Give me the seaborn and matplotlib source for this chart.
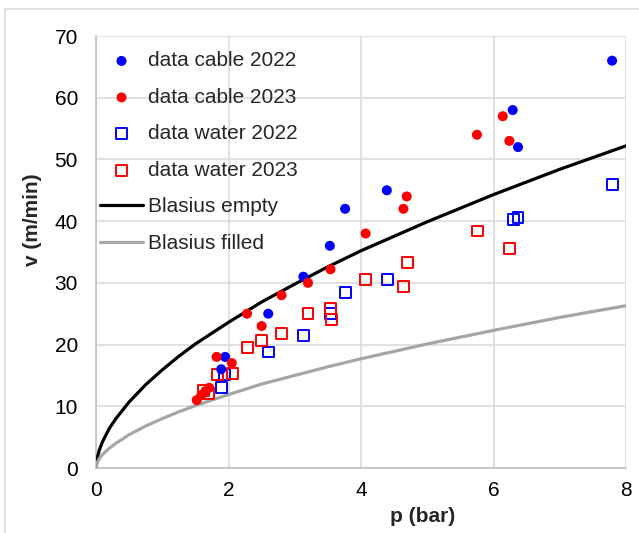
import matplotlib
matplotlib.use("Agg")
import matplotlib.pyplot as plt
from matplotlib.lines import Line2D
import seaborn as sns

# ---- data ----
cable22_p = [1.89, 1.95, 2.60, 3.13, 3.53, 3.76, 4.39, 6.29, 6.37, 7.79]
cable22_v = [16.0, 18.0, 25.0, 31.0, 36.0, 42.0, 45.0, 58.0, 52.0, 66.0]

cable23_p = [1.52, 1.59, 1.65, 1.71, 1.82, 2.05, 2.28, 2.50, 2.80, 3.20, 3.54,
             4.07, 4.64, 4.69, 5.75, 6.14, 6.24]
cable23_v = [11.0, 11.8, 12.4, 13.0, 18.0, 17.0, 25.0, 23.0, 28.0, 30.0, 32.2,
             38.0, 42.0, 44.0, 54.0, 57.0, 53.0]

water22_p = [1.89, 1.94, 2.60, 3.13, 3.54, 3.76, 4.40, 6.30, 6.37, 7.80]
water22_v = [13.0, 15.2, 18.8, 21.4, 25.0, 28.5, 30.6, 40.2, 40.6, 45.9]

water23_p = [1.62, 1.70, 1.83, 2.06, 2.28, 2.50, 2.80, 3.20, 3.54, 3.55, 4.07,
             4.64, 4.70, 5.76, 6.24]
water23_v = [12.6, 12.1, 15.1, 15.3, 19.6, 20.6, 21.8, 25.0, 25.8, 24.1, 30.5,
             29.4, 33.3, 38.4, 35.5]

blasius_p = [0, 0.02, 0.05, 0.1, 0.2, 0.3, 0.5, 0.75, 1, 1.25, 1.5, 2, 2.5, 3,
             3.5, 4, 5, 6, 7, 8]
blasius_empty_v = [0, 1.7, 2.9, 4.3, 6.4, 8.0, 10.7, 13.5, 15.9, 18.1, 20.1, 23.6,
                   26.9, 29.8, 32.6, 35.2, 39.9, 44.3, 48.4, 52.2]
blasius_filled_v = [0, 0.9, 1.5, 2.2, 3.2, 4.0, 5.4, 6.8, 8.0, 9.1, 10.1, 11.9,
                    13.6, 15.0, 16.4, 17.7, 20.1, 22.3, 24.4, 26.3]

x_ticks = [0, 2, 4, 6, 8]
y_ticks = [0, 10, 20, 30, 40, 50, 60, 70]

sns.set_theme(style="white")
plt.rcParams['font.family'] = ['Liberation Sans', 'DejaVu Sans']

FS = 15
fig = plt.figure(figsize=(6.39, 5.33), dpi=100)
ax = fig.add_axes([96/639, 1-468/533, 530/639, 432/533])

GRID = "#d9d9d9"

# curves
sns.lineplot(x=blasius_p, y=blasius_empty_v, ax=ax, color="black", lw=2.3,
             label="Blasius empty", zorder=3, sort=False)
sns.lineplot(x=blasius_p, y=blasius_filled_v, ax=ax, color="#a6a6a6", lw=2.3,
             label="Blasius filled", zorder=3, sort=False)

# points
sns.scatterplot(x=water22_p, y=water22_v, ax=ax, marker="s", s=62,
                facecolor="none", edgecolor="#0000ff", linewidth=1.4,
                label="data water 2022", zorder=4)
sns.scatterplot(x=water23_p, y=water23_v, ax=ax, marker="s", s=62,
                facecolor="none", edgecolor="#ff0000", linewidth=1.4,
                label="data water 2023", zorder=4)
sns.scatterplot(x=cable22_p, y=cable22_v, ax=ax, marker="o", s=52,
                color="#0000ff", edgecolor="none", label="data cable 2022", zorder=5)
sns.scatterplot(x=cable23_p, y=cable23_v, ax=ax, marker="o", s=52,
                color="#ff0000", edgecolor="none", label="data cable 2023", zorder=5)

ax.set_xlim(0, 8)
ax.set_ylim(0, 70)
ax.set_xticks(x_ticks)
ax.set_yticks(y_ticks)
ax.set_xticklabels([str(t) for t in x_ticks])
ax.set_yticklabels([str(t) for t in y_ticks])
ax.grid(True, color=GRID, lw=1.1)
ax.set_axisbelow(True)
for side in ["top", "right"]:
    ax.spines[side].set_visible(False)
for side in ["left", "bottom"]:
    ax.spines[side].set_color("#bfbfbf")
    ax.spines[side].set_linewidth(1.1)
ax.tick_params(axis="both", length=0, labelsize=FS, colors="black")
ax.tick_params(axis="y", pad=13)
ax.tick_params(axis="x", pad=9)

ax.set_xlabel("p (bar)", fontsize=FS, fontweight="bold")
ax.set_ylabel("v (m/min)", fontsize=FS, fontweight="bold")
ax.xaxis.set_label_coords(0.617, -0.090)
ax.yaxis.set_label_coords(-0.102, 0.574)

# legend in reference order
handles, labels = ax.get_legend_handles_labels()
order = ["data cable 2022", "data cable 2023", "data water 2022",
         "data water 2023", "Blasius empty", "Blasius filled"]
hmap = dict(zip(labels, handles))
leg = ax.legend([hmap[o] for o in order], order, loc="upper left",
                bbox_to_anchor=(0.0, 0.974), frameon=False, fontsize=FS,
                handlelength=2.05, handletextpad=0.25, labelspacing=0.84,
                borderaxespad=0.0, borderpad=0.2)

# outer chart border (left and top only visible)
fig.add_artist(Line2D([5/639, 5/639], [0, 1-9/533], transform=fig.transFigure,
                      color="#d9d9d9", lw=1.2))
fig.add_artist(Line2D([5/639, 1], [1-9/533, 1-9/533], transform=fig.transFigure,
                      color="#d9d9d9", lw=1.2))

fig.savefig("out.png", dpi=100)
